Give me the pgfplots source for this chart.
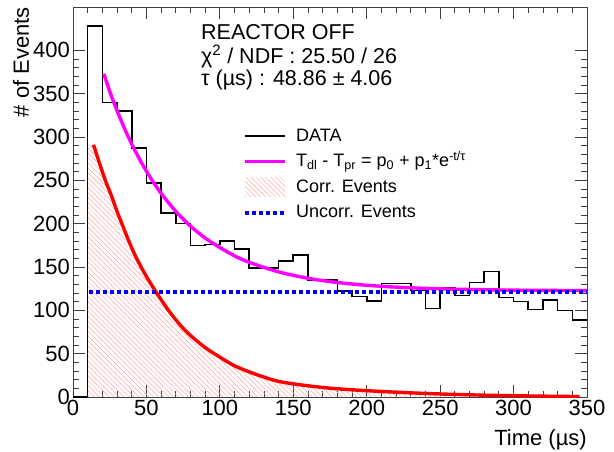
\documentclass[border=0pt]{standalone}
\usepackage{fontspec}
\setmainfont{Liberation Sans}
\usepackage{pgfplots}
\pgfplotsset{compat=1.18}
\usetikzlibrary{patterns.meta}

\definecolor{hatchred}{RGB}{255,165,165}
\definecolor{fitmag}{RGB}{255,0,255}
\definecolor{unblue}{RGB}{0,0,255}

\begin{document}
\begin{tikzpicture}
\path[use as bounding box] (-73pt,-54pt) rectangle (541pt,397pt);
\begin{axis}[
    scale only axis,
    width=514pt, height=390pt,
    xmin=0, xmax=350, ymin=0, ymax=450,
    xtick={0,50,...,350}, ytick={0,50,...,400},
    minor x tick num=4, minor y tick num=4,
    tick align=inside,
    major tick length=12pt, minor tick length=6pt,
    axis line style={black!75, line width=0.8pt},
    tick style={black!75, line width=0.8pt},
    /pgf/number format/assume math mode=true,
    tick label style={font=\fontsize{22}{26}\selectfont},
    yticklabel style={inner xsep=3pt},
    xlabel={Time (µs)},
    ylabel={\# of Events},
    label style={font=\fontsize{22}{26}\selectfont},
    xlabel style={at={(rel axis cs:1,-0.1231)}, anchor=base east, inner sep=0pt},
    ylabel style={at={(rel axis cs:-0.0856,1)}, anchor=base east, inner sep=0pt},
    legend cell align=left,
    legend style={at={(0.3307,0.6897)}, anchor=north west, draw=none, fill=none,
        inner sep=0pt, row sep=9.5pt, column sep=9pt,
        font=\fontsize{18}{21}\selectfont,
        nodes={inner sep=0pt, text height=13pt, text depth=3pt}},
]

% correlated events (hatched area under the red curve)
\addplot[forget plot, draw=none,
    pattern={Lines[angle=-45, distance=3.5pt, line width=0.5pt]},
    pattern color=hatchred]
coordinates {
    (10,291) (14,291) (18,270) (22,250) (26,233) (30,214) (34,197) (38,180)
    (43,161) (50,139) (57,120) (65,100) (73,83) (80,71) (90,57) (100,46)
    (110,36) (120,29) (130,23) (140,18) (155,14) (173,10.5) (190,8.3)
    (210,6.4) (230,4.8) (250,3.5) (280,2.1) (310,1.2) (345,0.5)
} \closedcycle;

% correlated events curve
\addplot[forget plot, red, line width=3.4pt, smooth]
coordinates {
    (14,291) (18,270) (22,250) (26,233) (30,214) (34,197) (38,180)
    (43,161) (50,139) (57,120) (65,100) (73,83) (80,71) (90,57) (100,46)
    (110,36) (120,29) (130,23) (140,18) (155,14) (173,10.5) (190,8.3)
    (210,6.4) (230,4.8) (250,3.5) (280,2.1) (310,1.2) (345,0.5)
};

% data histogram, 10 us bins
\addplot[const plot mark left, black, line width=1.6pt,
    legend image code/.code={\draw[black, line width=1.6pt] (0pt,0pt) -- (40pt,0pt);}]
coordinates {
    (0,0) (10,428) (20,340) (30,330) (40,287) (50,247) (60,212) (70,200)
    (80,175) (90,176) (100,180) (110,171) (120,149) (130,149) (140,157)
    (150,164) (160,135) (170,135) (180,122) (190,116) (200,111) (210,131)
    (220,131) (230,123) (240,102) (250,126) (260,117) (270,132) (280,145)
    (290,115) (300,110) (310,101) (320,112) (330,100) (340,89) (350,89)
};
\addlegendentry{DATA}

% fit
\addplot[fitmag, line width=3.4pt, smooth,
    legend image code/.code={\draw[fitmag, line width=3.4pt] (0pt,0pt) -- (40pt,0pt);}]
coordinates {
    (21,373) (25,352.7) (30,330.3) (35,310.1) (40,291.8) (45,275.4)
    (50,260.5) (55,247.1) (60,235) (70,214.2) (80,197.2) (90,183.4)
    (100,172.5) (110,162.9) (120,155.4) (140,144.4) (160,137) (180,132.1)
    (200,128.9) (220,126.8) (250,124.8) (300,123.3) (350,122.8)
};
\addlegendentry{T\textsubscript{dl} - T\textsubscript{pr} = p\textsubscript{0} + p\textsubscript{1}*e\textsuperscript{-t/τ}}

\addlegendimage{legend image code/.code={\path[overlay, draw=none, pattern={Lines[angle=-45, distance=3.5pt, line width=0.5pt]}, pattern color=hatchred] (0pt,-9.5pt) rectangle (40pt,9.5pt); \path[draw=none] (0pt,-8pt) rectangle (40pt,8pt);}}
\addlegendentry{Corr. Events}

% uncorrelated level
\addplot[unblue, line width=4pt, dash pattern=on 4pt off 3pt,
    legend image code/.code={\draw[unblue, line width=4pt, dash pattern=on 4pt off 3pt] (0pt,0pt) -- (40pt,0pt);}]
coordinates {(11,121) (350,121)};
\addlegendentry{Uncorr. Events}

\node[anchor=base west, inner sep=0pt, font=\fontsize{21.5}{24}\selectfont]
    at (rel axis cs:0.249,0.9154) {REACTOR OFF};
\node[anchor=base west, inner sep=0pt, font=\fontsize{21.5}{24}\selectfont]
    at (rel axis cs:0.249,0.8564) {χ\textsuperscript{2} / NDF : 25.50 / 26};
\node[anchor=base west, inner sep=0pt, font=\fontsize{21.5}{24}\selectfont]
    at (rel axis cs:0.249,0.8) {τ (µs) : 48.86 ± 4.06};

\end{axis}
\end{tikzpicture}
\end{document}
